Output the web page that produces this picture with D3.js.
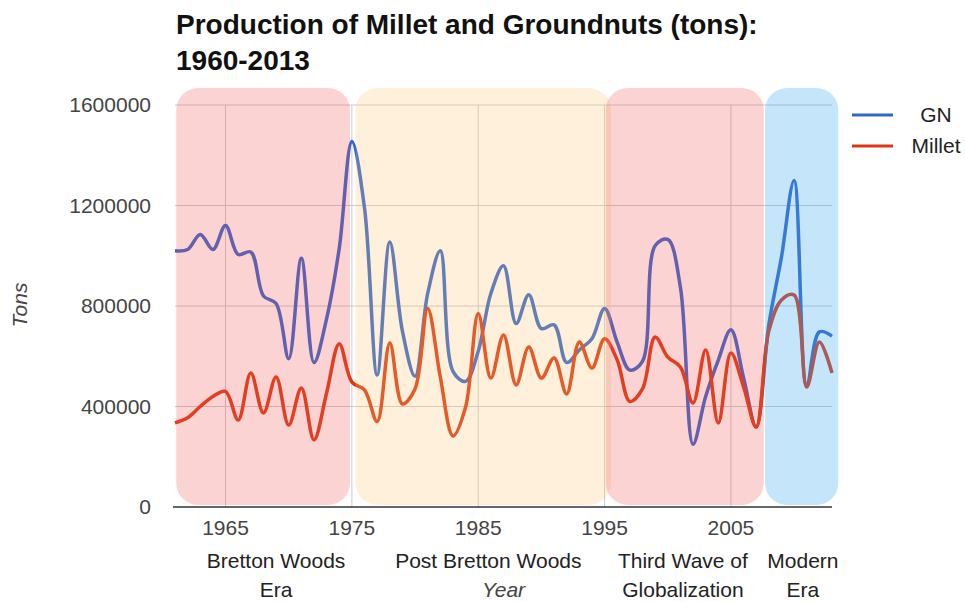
<!DOCTYPE html>
<html>
<head>
<meta charset="utf-8">
<script src="https://cdn.jsdelivr.net/npm/d3@7/dist/d3.min.js"></script>
<style>
  html, body { margin: 0; padding: 0; background: #fff; }
  svg { display: block; font-family: "Liberation Sans", Arial, sans-serif; }
</style>
</head>
<body>
<svg id="chart" width="965" height="602"></svg>
<script>
// ---------- data ----------
const years = d3.range(1961, 2014);
const gnValues = [
  1020000, 1025000, 1085000, 1025000, 1120000, 1005000, 1015000, 840000, 810000, 590000,
  990000, 575000, 750000, 1030000, 1455000, 1190000, 525000, 1055000, 700000, 520000,
  850000, 1020000, 540000, 500000, 620000, 850000, 960000, 730000, 845000, 710000,
  725000, 575000, 625000, 670000, 790000, 655000, 545000, 580000, 1040000, 1065000,
  875000, 250000, 440000, 585000, 705000, 515000, 318000, 725000, 995000, 1300000,
  480000, 697000, 680000
];
const milletValues = [
  335000, 355000, 400000, 440000, 460000, 346000, 533000, 374000, 517000, 326000,
  474000, 267000, 454000, 650000, 497000, 466000, 340000, 653000, 410000, 470000,
  790000, 517000, 283000, 398000, 770000, 513000, 685000, 486000, 637000, 513000,
  593000, 450000, 657000, 553000, 670000, 585000, 420000, 470000, 677000, 597000,
  557000, 414000, 625000, 334000, 613000, 478000, 318000, 700000, 824000, 844000,
  478000, 657000, 533000
];
const seriesNames = ["GN", "Millet"];
const xTicks = [1965, 1975, 1985, 1995, 2005];
const yTicks = [0, 400000, 800000, 1200000, 1600000];
const eraNames = [["Bretton Woods", "Era"], ["Post Bretton Woods", ""], ["Third Wave of", "Globalization"], ["Modern", "Era"]];
const eraStart = [1961.1, 1975.3, 1995.1, 2007.7];
const eraEnd = [1974.85, 1995.5, 2007.6, 2013.5];
const eraLabelYear = [1969.0, 1985.8, 2001.2, 2010.7];
const titleLines = ["Production of Millet and Groundnuts (tons):", "1960-2013"];

// ---------- styles ----------
const colors = { GN: "#3366cc", Millet: "#dc3912" };
const eraFill = ["rgb(245,80,80)", "rgb(250,195,110)", "rgb(245,80,80)", "rgb(60,170,240)"];
const eraOpacity = [0.25, 0.25, 0.25, 0.3];

const svg = d3.select("#chart");
const x = d3.scaleLinear().domain([1961, 2013]).range([175, 832]);
const y = d3.scaleLinear().domain([0, 1600000]).range([507, 105]);

// title
svg.append("g").selectAll("text").data(titleLines).join("text")
  .attr("x", 176).attr("y", (d, i) => 34 + i * 36)
  .attr("font-size", 28).attr("font-weight", "bold").attr("fill", "#111")
  .text(d => d);

// grid
const grid = svg.append("g");
grid.selectAll(".hg").data(yTicks.filter(d => d > 0)).join("line")
  .attr("x1", x(1961)).attr("x2", x(2013))
  .attr("y1", d => y(d)).attr("y2", d => y(d))
  .attr("stroke", "#cccccc").attr("stroke-width", 1);
grid.selectAll(".vg").data(xTicks).join("line")
  .attr("x1", d => x(d)).attr("x2", d => x(d))
  .attr("y1", y(1600000)).attr("y2", y(0))
  .attr("stroke", "#cccccc").attr("stroke-width", 1);

// lines
const line = d3.line().x((d, i) => x(years[i])).y(d => y(d)).curve(d3.curveCatmullRom);
[["GN", gnValues], ["Millet", milletValues]].forEach(([name, vals]) => {
  svg.append("path").datum(vals)
    .attr("d", line).attr("fill", "none")
    .attr("stroke", colors[name]).attr("stroke-width", 3.5)
    .attr("stroke-linejoin", "round");
});

// era bands (overlay)
svg.append("g").selectAll("rect").data(eraStart).join("rect")
  .attr("x", (d) => x(d))
  .attr("width", (d, i) => x(eraEnd[i]) - x(d))
  .attr("y", y(1600000) - 17)
  .attr("height", y(0) - 2 - (y(1600000) - 17))
  .attr("rx", 22).attr("ry", 22)
  .attr("fill", (d, i) => eraFill[i])
  .attr("fill-opacity", (d, i) => eraOpacity[i]);

// baseline
svg.append("line")
  .attr("x1", x(1961) - 2).attr("x2", x(2013))
  .attr("y1", y(0)).attr("y2", y(0))
  .attr("stroke", "#333").attr("stroke-width", 1.5);

// y axis labels
svg.append("g").selectAll("text").data(yTicks).join("text")
  .attr("x", 151).attr("y", d => y(d) + 7)
  .attr("text-anchor", "end").attr("font-size", 21).attr("fill", "#444")
  .text(d => d);

// x axis labels
svg.append("g").selectAll("text").data(xTicks).join("text")
  .attr("x", d => x(d)).attr("y", 535)
  .attr("text-anchor", "middle").attr("font-size", 21).attr("fill", "#444")
  .text(d => d);

// era labels
eraNames.forEach((lines, i) => {
  lines.forEach((t, j) => {
    if (!t) return;
    svg.append("text")
      .attr("x", x(eraLabelYear[i])).attr("y", 568 + j * 29)
      .attr("text-anchor", "middle").attr("font-size", 21).attr("fill", "#222")
      .text(t);
  });
});
svg.append("text")
  .attr("x", x(1987)).attr("y", 597)
  .attr("text-anchor", "middle").attr("font-size", 21).attr("font-style", "italic").attr("fill", "#444")
  .text("Year");

// y title
svg.append("text")
  .attr("transform", "translate(27,305) rotate(-90)")
  .attr("text-anchor", "middle").attr("font-size", 21).attr("font-style", "italic").attr("fill", "#444")
  .text("Tons");

// legend
const leg = svg.append("g").selectAll("g").data(seriesNames).join("g")
  .attr("transform", (d, i) => `translate(0,${115 + i * 31})`);
leg.append("line").attr("x1", 852).attr("x2", 893).attr("y1", 0).attr("y2", 0)
  .attr("stroke", d => colors[d]).attr("stroke-width", 3);
leg.append("text").attr("x", 936).attr("y", 7).attr("text-anchor", "middle")
  .attr("font-size", 21).attr("fill", "#222").text(d => d);
</script>
</body>
</html>
